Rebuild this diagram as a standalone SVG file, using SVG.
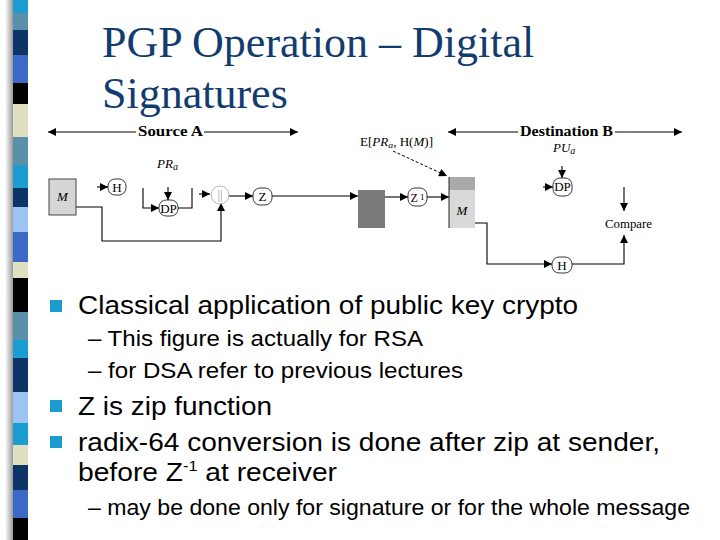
<svg xmlns="http://www.w3.org/2000/svg" width="720" height="540" viewBox="0 0 720 540">
<defs>
<marker id="ah" viewBox="0 0 10 10" refX="10" refY="5" markerWidth="9" markerHeight="8" markerUnits="userSpaceOnUse" orient="auto">
<path d="M0,0 L10,5 L0,10 z" fill="#000"/>
</marker>
<linearGradient id="shadow" x1="0" y1="0" x2="1" y2="0">
<stop offset="0" stop-color="#ffffff"/>
<stop offset="1" stop-color="#9a9a9a"/>
</linearGradient>
</defs>
<style>
.title{font-family:"Liberation Serif","Times New Roman",serif;font-size:44px;fill:#123c6e}
.body{font-family:"Liberation Sans",Arial,sans-serif;fill:#000}
.l1{font-size:26px}
.l2{font-size:22px}
.bul{fill:#1b9ccf}
.dg{font-family:"Liberation Serif","Times New Roman",serif;fill:#000}
.hdr{font-size:14px;font-weight:bold}
.nd{fill:#fff;stroke:#222;stroke-width:0.9}
.lbl{font-size:13px;text-anchor:middle}
.it{font-style:italic}
.cn{stroke:#000;stroke-width:1.1;fill:none}
.ar{marker-end:url(#ah)}
</style>
<rect width="720" height="540" fill="#fff"/>
<g id="strip">
<rect x="5" y="0" width="8" height="540" fill="url(#shadow)"/>
<rect x="13" y="0" width="15" height="13" fill="#1a9dd1"/>
<rect x="13" y="13" width="15" height="17" fill="#5b90aa"/>
<rect x="13" y="30" width="15" height="25" fill="#0c3467"/>
<rect x="13" y="55" width="15" height="28" fill="#3c68c6"/>
<rect x="13" y="83" width="15" height="21" fill="#000"/>
<rect x="13" y="104" width="15" height="33" fill="#e0dfc0"/>
<rect x="13" y="137" width="15" height="28" fill="#5b90aa"/>
<rect x="13" y="165" width="15" height="23" fill="#1a9dd1"/>
<rect x="13" y="188" width="15" height="19" fill="#0c3467"/>
<rect x="13" y="207" width="15" height="25" fill="#9cc4f2"/>
<rect x="13" y="232" width="15" height="30" fill="#3c68c6"/>
<rect x="13" y="262" width="15" height="16" fill="#e0dfc0"/>
<rect x="13" y="278" width="15" height="34" fill="#000"/>
<rect x="13" y="312" width="15" height="28" fill="#5b90aa"/>
<rect x="13" y="340" width="15" height="18" fill="#1a9dd1"/>
<rect x="13" y="358" width="15" height="34" fill="#0c3467"/>
<rect x="13" y="392" width="15" height="31" fill="#9cc4f2"/>
<rect x="13" y="423" width="15" height="22" fill="#1a9dd1"/>
<rect x="13" y="445" width="15" height="20" fill="#e0dfc0"/>
<rect x="13" y="465" width="15" height="25" fill="#0c3467"/>
<rect x="13" y="490" width="15" height="28" fill="#3c68c6"/>
<rect x="13" y="518" width="15" height="22" fill="#000"/>
</g>
<g id="title">
<text class="title" x="102" y="57">PGP Operation – Digital</text>
<text class="title" x="102" y="108">Signatures</text>
</g>
<g id="connectors">
<line class="cn ar" x1="136" y1="132" x2="48" y2="132"/>
<line class="cn ar" x1="204" y1="132" x2="298" y2="132"/>
<line class="cn ar" x1="518" y1="132" x2="448" y2="132"/>
<line class="cn ar" x1="615" y1="132" x2="682" y2="132"/>
<line class="cn ar" x1="97" y1="187" x2="108" y2="187"/>
<line class="cn ar" x1="168" y1="187" x2="168" y2="200"/>
<polyline class="cn ar" points="143,188 143,208 159,208"/>
<polyline class="cn" points="178,208 192,208 192,188"/>
<line class="cn ar" x1="199" y1="194" x2="210" y2="194"/>
<polyline class="cn ar" points="76,207 102,207 102,241 221,241 221,203"/>
<line class="cn ar" x1="229" y1="196" x2="253" y2="196"/>
<line class="cn ar" x1="272" y1="196" x2="358" y2="196"/>
<line class="cn ar" x1="385" y1="197" x2="408" y2="197"/>
<line class="cn ar" x1="427" y1="197" x2="449" y2="197"/>
<line x1="393" y1="151" x2="447" y2="176" stroke="#000" stroke-width="1" stroke-dasharray="3,2" marker-end="url(#ah)"/>
<polyline class="cn ar" points="475,223 487,223 487,264 552,264"/>
<polyline class="cn ar" points="572,264 624,264 624,235"/>
<line class="cn ar" x1="624" y1="187" x2="624" y2="211"/>
<line class="cn ar" x1="562" y1="166" x2="562" y2="178"/>
<line class="cn ar" x1="543" y1="187" x2="553" y2="187"/>
</g>
<g id="labels" class="dg">
<text class="dg hdr" x="138" y="136" textLength="65" lengthAdjust="spacingAndGlyphs">Source A</text>
<text class="dg hdr" x="520" y="136" textLength="93" lengthAdjust="spacingAndGlyphs">Destination B</text>
<text class="dg" x="157" y="168" font-size="13"><tspan class="it">PR</tspan><tspan class="it" font-size="10" dy="2">a</tspan></text>
<text class="dg" x="553" y="152" font-size="13"><tspan class="it">PU</tspan><tspan class="it" font-size="10" dy="2">a</tspan></text>
<text class="dg" x="360" y="146" font-size="12" textLength="73" lengthAdjust="spacingAndGlyphs">E[<tspan class="it">PR</tspan><tspan class="it" font-size="9" dy="2">a</tspan><tspan dy="-2">, H(</tspan><tspan class="it">M</tspan>)]</text>
<text class="dg" x="605" y="228" font-size="12" textLength="47" lengthAdjust="spacingAndGlyphs">Compare</text>
</g>
<g id="M-source">
<rect x="49" y="179" width="27" height="36" fill="#d6d6d6" stroke="#333" stroke-width="0.9"/>
<text class="dg lbl it" x="62.5" y="201">M</text>
</g>
<g id="H-source">
<rect class="nd" x="108" y="179" width="18" height="16" rx="7"/>
<text class="dg lbl" x="117" y="192">H</text>
</g>
<g id="DP-source">
<rect class="nd" x="159" y="200" width="19" height="16" rx="7"/>
<text class="dg lbl" x="168.5" y="213" font-size="12">DP</text>
</g>
<g id="concat">
<circle cx="220" cy="195" r="9" fill="#fff" stroke="#aaa" stroke-width="0.9"/>
<text class="dg lbl" x="220" y="199" style="fill:#999">||</text>
</g>
<g id="Z">
<rect class="nd" x="253" y="188" width="19" height="17" rx="7"/>
<text class="dg lbl" x="262.5" y="201">Z</text>
</g>
<g id="compressed">
<rect x="358" y="190" width="27" height="38" fill="#7a7a7a"/>
</g>
<g id="Zinv">
<rect class="nd" x="408" y="188" width="19" height="18" rx="7"/>
<text class="dg" x="417.5" y="202" font-size="12" text-anchor="middle">Z<tspan font-size="9" dy="-2"> 1</tspan></text>
</g>
<g id="M-dest">
<rect x="449" y="177" width="26" height="13" fill="#a9a9a9"/>
<rect x="449" y="190" width="26" height="38" fill="#d9d9d9"/>
<line x1="449" y1="177" x2="449" y2="228" stroke="#222" stroke-width="1"/>
<text class="dg lbl it" x="462" y="215">M</text>
</g>
<g id="DP-dest">
<rect class="nd" x="553" y="178" width="19" height="18" rx="7"/>
<text class="dg lbl" x="562.5" y="191" font-size="12">DP</text>
</g>
<g id="H-dest">
<rect class="nd" x="552" y="257" width="20" height="16" rx="7"/>
<text class="dg lbl" x="562" y="270">H</text>
</g>
<g id="bullets" class="body">
<rect class="bul" x="50" y="300" width="12" height="12"/>
<text class="body l1" x="78" y="314" textLength="500" lengthAdjust="spacingAndGlyphs">Classical application of public key crypto</text>
<text class="body l2" x="88" y="346" textLength="335" lengthAdjust="spacingAndGlyphs">– This figure is actually for RSA</text>
<text class="body l2" x="88" y="378" textLength="375" lengthAdjust="spacingAndGlyphs">– for DSA refer to previous lectures</text>
<rect class="bul" x="50" y="400" width="12" height="12"/>
<text class="body l1" x="78" y="415" textLength="194" lengthAdjust="spacingAndGlyphs">Z is zip function</text>
<rect class="bul" x="50" y="436" width="12" height="12"/>
<text class="body l1" x="78" y="451" textLength="582" lengthAdjust="spacingAndGlyphs">radix-64 conversion is done after zip at sender,</text>
<text class="body l1" x="78" y="481" textLength="259" lengthAdjust="spacingAndGlyphs">before Z<tspan font-size="15" dy="-10">-1</tspan><tspan dy="10"> at receiver</tspan></text>
<text class="body l2" x="88" y="515" textLength="602" lengthAdjust="spacingAndGlyphs">– may be done only for signature or for the whole message</text>
</g>
</svg>
